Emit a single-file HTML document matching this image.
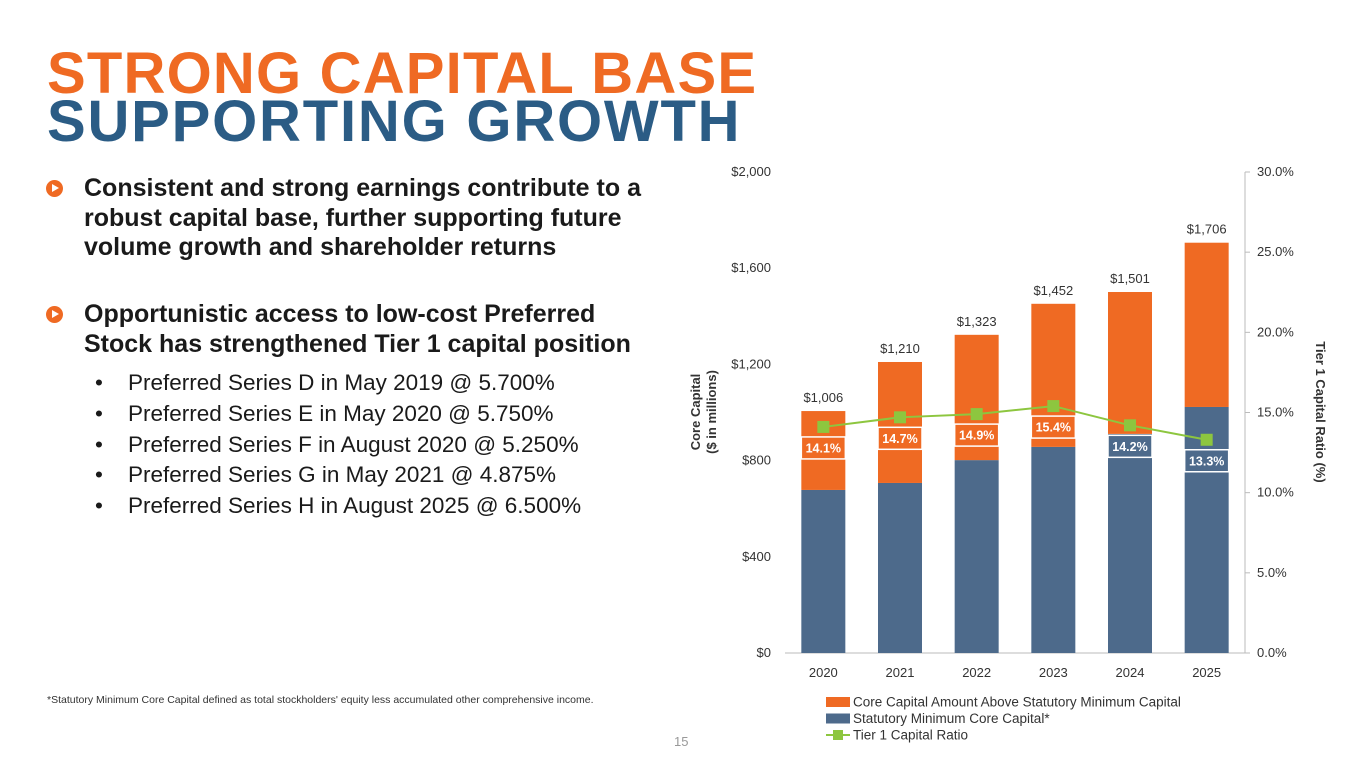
<!DOCTYPE html>
<html><head><meta charset="utf-8"><style>
body{margin:0;width:1365px;height:768px;background:#fff;font-family:"Liberation Sans",sans-serif;position:relative;overflow:hidden}
.t{position:absolute;left:47px;font-weight:900;font-size:58px;letter-spacing:1.2px;line-height:1;white-space:nowrap}
.b{position:absolute;left:84px;font-weight:bold;font-size:25px;line-height:29.5px;color:#1a1a1a;white-space:nowrap}
.ic{position:absolute;left:46px;width:17px;height:17px;border-radius:50%;background:#ef6a23}
.ic:after{content:"";position:absolute;left:6px;top:4px;border-left:7px solid #fff;border-top:4.5px solid transparent;border-bottom:4.5px solid transparent}
.s{position:absolute;left:95px;font-size:22.5px;color:#1a1a1a;white-space:nowrap}
.s span{display:inline-block;width:33px}
</style></head><body>
<div class="t" style="top:45px;color:#ef6a23">STRONG CAPITAL BASE</div>
<div class="t" style="top:93px;color:#2b5c85;letter-spacing:1.8px">SUPPORTING GROWTH</div>
<div class="ic" style="top:180px"></div>
<div class="b" style="top:174px">Consistent and strong earnings contribute to a<br>robust capital base, further supporting future<br>volume growth and shareholder returns</div>
<div class="ic" style="top:306px"></div>
<div class="b" style="top:300px">Opportunistic access to low-cost Preferred<br>Stock has strengthened Tier 1 capital position</div>
<div class="s" style="top:370px"><span>•</span>Preferred Series D in May 2019 @ 5.700%</div>
<div class="s" style="top:401px"><span>•</span>Preferred Series E in May 2020 @ 5.750%</div>
<div class="s" style="top:432px"><span>•</span>Preferred Series F in August 2020 @ 5.250%</div>
<div class="s" style="top:462px"><span>•</span>Preferred Series G in May 2021 @ 4.875%</div>
<div class="s" style="top:493px"><span>•</span>Preferred Series H in August 2025 @ 6.500%</div>
<div style="position:absolute;left:47px;top:694px;font-size:10.5px;color:#333">*Statutory Minimum Core Capital defined as total stockholders' equity less accumulated other comprehensive income.</div>
<div style="position:absolute;left:674px;top:734px;font-size:13px;color:#999">15</div>
<svg id="chart" width="1365" height="768" style="position:absolute;left:0;top:0" font-family="Liberation Sans, DejaVu Sans, sans-serif"></svg>
<script>
const years=["2020","2021","2022","2023","2024","2025"];
const totals=[1006,1210,1323,1452,1501,1706];
const statMin=[678,707,802,857,911,1023];
const ratios=[14.1,14.7,14.9,15.4,14.2,13.3];
const leftTicks=[0,400,800,1200,1600,2000];
const rightTicks=[0,5,10,15,20,25,30];
const svg=document.getElementById('chart');
const NS="http://www.w3.org/2000/svg";
const x0=785,x1=1245,yb=653,yt=172;
const y=v=>yb-(v/2000)*(yb-yt);
const yr=v=>yb-(v/30)*(yb-yt);
const bw=(x1-x0)/years.length;
const xc=i=>x0+bw*(i+0.5);
function mk(t,a,p){const e=document.createElementNS(NS,t);for(const k in a)e.setAttribute(k,a[k]);(p||svg).appendChild(e);return e;}
function tx(s,a){const e=mk('text',a);e.textContent=s;return e;}
leftTicks.forEach(v=>{const e=tx('$'+v.toLocaleString('en-US'),{x:771,y:y(v)+4,'text-anchor':'end','font-size':13,fill:'#333'});

});
rightTicks.forEach(v=>{const e=tx(v.toFixed(1)+'%',{x:1257,y:yr(v)+4,'font-size':13,fill:'#333'});


const t=mk('line',{x1:1245,x2:1250,y1:yr(v),y2:yr(v),stroke:'#bbb'});

});
const ax=mk('line',{x1:x0,x2:x1,y1:yb,y2:yb,stroke:'#bbb'});


const ra=mk('line',{x1:1245,x2:1245,y1:yt,y2:yb,stroke:'#bbb'});


years.forEach((yv,i)=>{
 const c=xc(i),w=44;
 const b=mk('rect',{x:c-w/2,y:y(statMin[i]),width:w,height:yb-y(statMin[i]),fill:'#4d6a8b'});
 
 
 const o=mk('rect',{x:c-w/2,y:y(totals[i]),width:w,height:y(statMin[i])-y(totals[i]),fill:'#ef6a23'});
 
 
 const l=tx('$'+totals[i].toLocaleString('en-US'),{x:c,y:y(totals[i])-9,'text-anchor':'middle','font-size':13,fill:'#333'});
 
 
 const xl=tx(yv,{x:c,y:677,'text-anchor':'middle','font-size':13,fill:'#333'});
 
 
});
let pts=ratios.map((r,i)=>xc(i)+','+yr(r)).join(' ');
const pl=mk('polyline',{points:pts,fill:'none',stroke:'#8dc63f','stroke-width':2});


ratios.forEach((r,i)=>{
 const c=xc(i),py=yr(r);
 const m=mk('rect',{x:c-6,y:py-6,width:12,height:12,fill:'#8dc63f'});
 
 
 const ly=py+21;
 const bg=y(statMin[i])<ly?'#4d6a8b':'#ef6a23';
 const bx=mk('rect',{x:c-22,y:ly-11,width:44,height:22,fill:bg,stroke:'#fff','stroke-width':1.5});
 
 
 const t=tx(r.toFixed(1)+'%',{x:c,y:ly+4.5,'text-anchor':'middle','font-size':12.5,'font-weight':'bold',fill:'#fff'});
 
 
});
const yt1=tx('Core Capital',{x:0,y:0,'text-anchor':'middle','font-size':13,'font-weight':'bold',fill:'#333',transform:'translate(700,412) rotate(-90)'});


const yt2=tx('($ in millions)',{x:0,y:0,'text-anchor':'middle','font-size':13,'font-weight':'bold',fill:'#333',transform:'translate(716,412) rotate(-90)'});


const yt3=tx('Tier 1 Capital Ratio (%)',{x:0,y:0,'text-anchor':'middle','font-size':13,'font-weight':'bold',fill:'#333',transform:'translate(1316,412) rotate(90)'});


const leg=[['Core Capital Amount Above Statutory Minimum Capital','#ef6a23',0],['Statutory Minimum Core Capital*','#4d6a8b',0],['Tier 1 Capital Ratio','#8dc63f',1]];
leg.forEach((L,i)=>{
 const ly=702+i*16.5;
 if(L[2]){const a=mk('line',{x1:826,x2:850,y1:ly,y2:ly,stroke:L[1],'stroke-width':2});
  
  
  const b=mk('rect',{x:833,y:ly-5,width:10,height:10,fill:L[1]});
  
  }
 else{const s=mk('rect',{x:826,y:ly-5,width:24,height:10,fill:L[1]});
  
  }
 const t=tx(L[0],{x:853,y:ly+4.5,'font-size':13.5,fill:'#333'});
 
 
});
</script>
</body></html>
